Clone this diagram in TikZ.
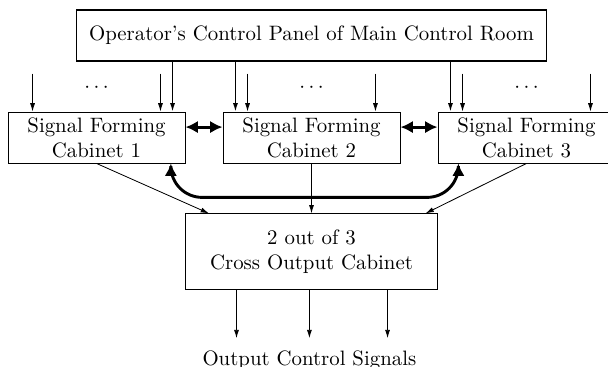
\documentclass[tikz,border=0pt]{standalone}
\usetikzlibrary{positioning, arrows.meta}
\begin{document}
\begin{tikzpicture}[>=latex,
	block/.style={draw, minimum height=24.5pt, minimum width=85pt, align=center, inner sep=2pt},
	arrow/.style={-{Latex[length=4pt, width=2.4pt]}, thin},
	panelarrow/.style={-{Latex[length=4pt, width=2.4pt]}, semithick},
	link/.style={{Latex[length=6pt, width=6pt]}-{Latex[length=6pt, width=6pt]}, line width=1.4pt}]
	
	\useasboundingbox (-46.32pt,66pt) rectangle (245.52pt,-110.16pt);
	
	\node[block] (cab1) at (0,0) {Signal Forming\\Cabinet 1};
	\node[block, right=17.8pt of cab1] (cab2) {Signal Forming\\Cabinet 2};
	\node[block, right=17.8pt of cab2] (cab3) {Signal Forming\\Cabinet 3};
	
	\node[block, semithick, minimum width=225.6pt, above=24pt of cab2] (panel) {Operator's Control Panel of Main Control Room};
	\node[block, minimum width=121pt, minimum height=36.5pt, below=24pt of cab2] (out) {2 out of 3\\Cross Output Cabinet};
	
	% external inputs of each cabinet
	\foreach \c in {1,2,3} {
		\coordinate (inL\c) at ([xshift=12pt, yshift=18.2pt]cab\c.north west);
		\coordinate (inR\c) at ([xshift=-12pt, yshift=18.2pt]cab\c.north east);
		\draw[arrow] (inL\c) -- (inL\c |- cab\c.north);
		\draw[arrow] (inR\c) -- (inR\c |- cab\c.north);
		\node (dots\c) at ([yshift=11.5pt]cab\c.north) {$\cdots$};
	}
	
	% commands from the control panel
	\coordinate (p1) at ([xshift=-6.2pt]cab1.north east);
	\coordinate (p2) at ([xshift=6.2pt]cab2.north west);
	\coordinate (p3) at ([xshift=6.2pt]cab3.north west);
	\draw[panelarrow] (p1 |- panel.south) -- (p1);
	\draw[panelarrow] (p2 |- panel.south) -- (p2);
	\draw[panelarrow] (p3 |- panel.south) -- (p3);
	
	\draw[link] ([yshift=5pt]cab1.east) -- ([yshift=5pt]cab2.west);
	\draw[link] ([yshift=5pt]cab2.east) -- ([yshift=5pt]cab3.west);
	
	\coordinate (c1) at ([xshift=-7pt]cab1.south east);
	\coordinate (c3) at ([xshift=10pt]cab3.south west);
	\coordinate (cb) at ([yshift=-16.3pt]cab2.south);
	\draw[link, rounded corners=15pt] (c1) |- (cb) -| (c3);
	
	\draw[arrow] (cab1.south) -- ([xshift=11.5pt]out.north west);
	\draw[arrow] (cab2.south) -- (out.north);
	\draw[arrow] (cab3.south) -- ([xshift=-6pt]out.north east);
	
	\foreach \i/\dx in {1/-36pt, 2/-1pt, 3/36.5pt} {
		\coordinate (o\i) at ([xshift=\dx, yshift=-23pt]out.south);
		\draw[arrow] (o\i |- out.south) -- (o\i);
	}
	\node[below=2.5pt of o2] (outsig) {Output Control Signals};
\end{tikzpicture}
\end{document}
